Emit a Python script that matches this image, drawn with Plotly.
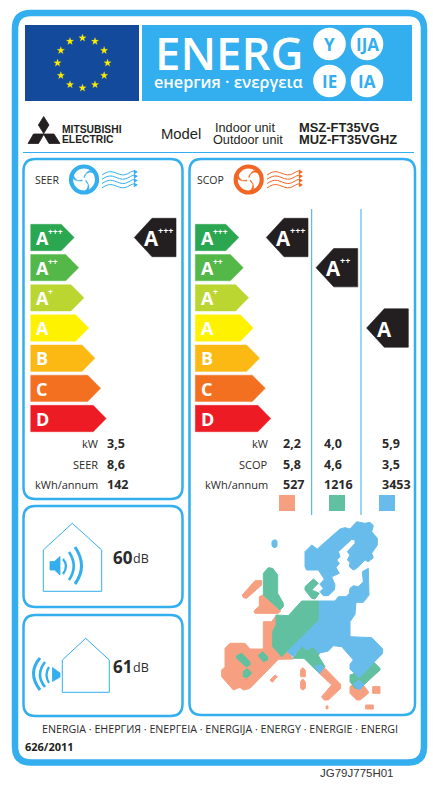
import math
import plotly.graph_objects as go

W = 433
H = 791

BLUE = "#33AEEF"
BLACK = "#231F20"
ORANGE = "#F26522"
TEXT_DARK = "#2B2A29"
SALMON = "#F6A081"
GREEN = "#61C09F"
SKY = "#67BCEB"

# data
class_letters = ["A", "A", "A", "A", "B", "C", "D"]
class_plus = ["+++", "++", "+", "", "", "", ""]
class_colors = ["#2BA651", "#53B848", "#BCD631", "#FFF200", "#FDB913", "#F37021", "#ED1C24"]
class_lengths = [43.5, 48, 53.3, 58, 64.3, 70, 75.5]

seer_labels = ["kW", "SEER", "kWh/annum"]
seer_values = ["3,5", "8,6", "142"]
seer_rating = 0

scop_labels = ["kW", "SCOP", "kWh/annum"]
scop_warm = ["2,2", "5,8", "527"]
scop_average = ["4,0", "4,6", "1216"]
scop_cold = ["5,9", "3,5", "3453"]
scop_ratings = [0, 1, 3]
zone_colors = [SALMON, GREEN, SKY]

noise_indoor = "60"
noise_outdoor = "61"

# map outlines, crop coords (3x, from 200,525)
map_salmon = [
    [(127,210),(165,167),(185,167),(185,180),(140,220),(130,218)],
    [(190,210),(242,258),(235,265),(165,265),(162,258),(178,243),(178,215)],
    [(75,370),(90,355),(135,355),(150,372),(190,372),(190,290),(215,290),(228,272),(228,300),(218,320),
     (218,365),(245,395),(262,380),(280,402),(235,403),(150,490),(130,495),(120,487),(100,495),(65,455),(65,435),(75,425)],
    [(210,465),(225,450),(232,455),(217,472)],
    [(302,435),(308,428),(316,435),(316,455),(302,455)],
    [(302,470),(308,462),(316,470),(316,490),(308,495),(302,490)],
    [(358,445),(375,430),(422,478),(422,490),(385,525),(372,525),(365,515),(395,480)],
    [(450,485),(465,475),(490,480),(505,500),(505,505),(480,525),(470,525),(450,505)],
    [(497,540),(520,540),(520,552),(497,552)],
    [(518,485),(540,485),(540,505),(518,505)],
    [(378,543),(384,543),(384,551),(378,551)],
]
map_green = [
    [(190,145),(205,128),(218,130),(233,150),(233,205),(250,235),(250,245),(240,255),(190,210)],
    [(315,185),(340,162),(355,175),(335,195),(358,205),(345,222),(335,220),(315,195)],
    [(305,228),(358,228),(358,285),(245,395),(218,365),(218,320),(228,300),(228,270),(265,272)],
    [(110,392),(125,385),(150,410),(150,420),(138,425),(110,400)],
    [(175,392),(188,380),(203,395),(203,405),(190,410)],
    [(130,440),(142,430),(155,445),(142,458),(130,455)],
    [(280,400),(305,362),(320,375),(340,365),(358,385),(355,392),(375,425),(358,445),(312,400)],
    [(450,450),(465,445),(478,458),(522,412),(540,430),(540,435),(480,490),(465,490),(450,470)],
]
map_sky = [
    [(315,80),(335,60),(352,72),(420,12),(435,8),(450,12),(470,-10),(495,-5),(510,-8),(520,2),(515,20),(532,40),
     (532,60),(515,85),(520,98),(505,110),(495,105),(470,130),(460,135),(448,125),(450,112),(442,105),(450,90),
     (442,80),(465,55),(465,45),(455,43),(415,80),(420,95),(410,105),(418,115),(408,128),(418,145),(395,155),
     (405,180),(403,195),(385,212),(370,212),(360,200),(370,190),(360,178),(373,162),(365,150),(355,135),(320,135),(315,125)],
    [(358,228),(405,228),(415,215),(438,215),(448,205),(450,190),(460,182),(475,185),(490,170),(487,140),(505,130),
     (507,210),(490,232),(468,232),(465,268),(450,290),(450,335),(515,338),(548,372),(548,385),(522,412),(478,458),
     (450,432),(450,418),(460,405),(425,365),(400,362),(385,378),(355,385),(340,365),(320,375),(305,362),(280,395),
     (262,380),(358,285)],
    [(216,50),(220,45),(228,45),(231,50),(231,62),(228,67),(220,67),(216,62)],
    [(345,425),(362,418),(372,428),(358,445)],
    [(460,478),(478,465),(492,480),(478,495)],
]

fig = go.Figure()


def poly(points, color, line=0.8):
    xs = [p[0] for p in points] + [points[0][0]]
    ys = [p[1] for p in points] + [points[0][1]]
    fig.add_trace(go.Scatter(x=xs, y=ys, mode="lines", fill="toself", fillcolor=color,
                             line=dict(color=color, width=line), hoverinfo="skip", showlegend=False))


def round_rect(x0, y0, x1, y1, r, color, width):
    path = (f"M {x0+r},{y0} L {x1-r},{y0} Q {x1},{y0} {x1},{y0+r} L {x1},{y1-r} Q {x1},{y1} {x1-r},{y1} "
            f"L {x0+r},{y1} Q {x0},{y1} {x0},{y1-r} L {x0},{y0+r} Q {x0},{y0} {x0+r},{y0} Z")
    fig.add_shape(type="path", path=path, line=dict(color=color, width=width), layer="below")


def stroke(path, color, width):
    fig.add_shape(type="path", path=path, line=dict(color=color, width=width))


def text(x, y, s, size, color=TEXT_DARK, bold=False, family="Open Sans", anchor="left", weight=None):
    if bold:
        s = "<b>" + s + "</b>"
    if anchor == "left":
        x = x - 0.8
    font = dict(family=family, size=size, color=color)
    if weight:
        font["weight"] = weight
    fig.add_annotation(x=x, y=y, text=s, showarrow=False, xanchor=anchor, yanchor="middle", borderpad=0, font=font)


def rect(x0, y0, x1, y1, color):
    fig.add_shape(type="rect", x0=x0, y0=y0, x1=x1, y1=y1, fillcolor=color, line_width=0, layer="below")


def circle(cx, cy, r, color, fill=None, width=0):
    fig.add_shape(type="circle", x0=cx-r, y0=cy-r, x1=cx+r, y1=cy+r, fillcolor=fill,
                  line=dict(color=color, width=width), layer="below")


def star(cx, cy, r):
    pts = []
    for k in range(10):
        a = -math.pi / 2 + k * math.pi / 5
        rr = r if k % 2 == 0 else r * 0.4
        pts.append((cx + rr * math.cos(a), cy + rr * math.sin(a)))
    return pts


def fan(cx, cy, color):
    circle(cx, cy, 13, color, fill="white", width=4.2)
    for a0 in [-75, 45, 165]:
        a = math.radians(a0)
        b = a + math.radians(70)
        c = a - math.radians(28)
        pts = []
        for t in range(0, 11):
            u = t / 10
            r = 1.5 + 10.5 * math.sin(u * math.pi / 2)
            an = a + (b - a) * u * u * 0.6
            pts.append((cx + r * math.cos(an), cy + r * math.sin(an)))
        for t in range(10, -1, -1):
            u = t / 10
            r = 1.5 + 10.5 * u
            an = c + (a + (b - a) * 0.6 - c) * u
            pts.append((cx + r * math.cos(an), cy + r * math.sin(an)))
        poly(pts, color, 0.5)
    poly(star(cx, cy, 1.7), "white", 1.2)


def waves(x0, color):
    for k, y in enumerate([175, 179.3, 183.6, 187.9]):
        end = x0 + 35
        d = (f"M {x0},{y} C {x0+6},{y-4} {x0+9},{y-4} {x0+14},{y-2} "
             f"S {x0+22},{y+1} {x0+27},{y-2} S {end-3},{y-4} {end},{y-3}")
        stroke(d, color, 1)
        poly([(end+0.5, y-3), (end-3, y-5.2), (end-3, y-0.8)], color, 0.3)


def class_scale(x0):
    for i, (letter, plus, color, length) in enumerate(zip(class_letters, class_plus, class_colors, class_lengths)):
        top = 224.3 + 30.17 * i
        bot = top + 26.4
        tip = x0 + length
        poly([(x0, top), (tip-13, top), (tip, (top+bot)/2), (tip-13, bot), (x0, bot)], color, 0.4)
        text(x0 + 5, (top+bot)/2 + 0.3, letter, 18, "white", True)
        if plus:
            text(x0 + 17.5, top + 7, plus, 8.5, "white", True)


def rating_arrow(right, rating):
    cy = 237.5 + 30.17 * rating
    top, bot = cy - 19.2, cy + 19.2
    poly([(right-41.7, cy), (right-24, top), (right, top), (right, bot), (right-24, bot)], BLACK, 0.6)
    text(right-32, cy + 0.5, class_letters[rating], 20.5, "white", True)
    if class_plus[rating]:
        text(right-18, cy - 7.5, class_plus[rating], 9, "white", True)


# outer frame and panels
round_rect(15, 13, 424, 762.5, 16, BLUE, 6.5)
round_rect(23.5, 159, 182.5, 499, 12, BLUE, 2.5)
round_rect(189.5, 159, 415, 715, 12, BLUE, 2.5)
round_rect(23.5, 506, 182.5, 607, 12, BLUE, 2.5)
round_rect(23.5, 615, 182.5, 716, 12, BLUE, 2.5)

# header
rect(25, 25, 139, 101, "#134A9C")
rect(142, 25, 412, 101, BLUE)
for k in range(12):
    a = math.radians(30 * k)
    poly(star(82.5 + 25 * math.sin(a), 63 - 25 * math.cos(a), 3.9), "#FFED00", 0.2)
text(154.5, 52, "ENERG", 45.5, "white", weight=600)
text(154, 82, "енергия · ενεργεια", 16.2, "white", weight=600)
for (cx, cy), s in zip([(329.5, 44), (367, 44), (329.5, 81), (367, 81)], ["Y", "IJA", "IE", "IA"]):
    circle(cx, cy, 16.3, "white", fill="white")
    text(cx, cy, s, 17, BLUE, True, anchor="center")

# logo
poly([(43.7, 116.5), (49, 125), (43.7, 133.5), (38.4, 125)], BLACK)
poly([(28, 143.5), (33.5, 134), (44, 134), (38.5, 143.5)], BLACK)
poly([(49, 143.5), (43.5, 134), (54, 134), (60, 143.5)], BLACK)
text(62, 129, "MITSUBISHI", 10.3, BLACK, True, "Liberation Sans")
text(62, 139, "ELECTRIC", 10.3, BLACK, True, "Liberation Sans")
text(161, 133.5, "Model", 14.8, BLACK, False, "Liberation Sans")
text(214.5, 127.5, "Indoor unit", 12.7, BLACK, False, "Liberation Sans")
text(212.5, 139.5, "Outdoor unit", 12.7, BLACK, False, "Liberation Sans")
text(298.5, 127.5, "MSZ-FT35VG", 12.9, BLACK, True, "Liberation Sans")
text(298.5, 139.5, "MUZ-FT35VGHZ", 12.9, BLACK, True, "Liberation Sans")
fig.add_shape(type="line", x0=23, x1=414, y0=152.5, y1=152.5, line=dict(color=BLUE, width=1))

# SEER panel
text(34.5, 180, "SEER", 10.5)
fan(84, 179.5, BLUE)
waves(102, BLUE)
class_scale(30.7)
rating_arrow(176, seer_rating)
for y, label, value in zip([443.7, 464, 484], seer_labels, seer_values):
    text(99, y, label, 11, anchor="right")
    text(106.5, y, value, 12.5, bold=True)

# SCOP panel
text(196.5, 180, "SCOP", 10.5)
fan(248.7, 179.5, ORANGE)
waves(267, ORANGE)
class_scale(195.3)
for right, rating in zip([308, 357.7, 408.3], scop_ratings):
    rating_arrow(right, rating)
for x in [311.7, 361]:
    fig.add_shape(type="line", x0=x, x1=x, y0=209, y1=515, line=dict(color=BLUE, width=1))
for i, y in enumerate([443.7, 464, 484]):
    text(269, y, scop_labels[i], 11, anchor="right")
    for x, col in zip([282.7, 324, 382], [scop_warm, scop_average, scop_cold]):
        text(x, y, col[i], 12.5, bold=True)
for x, color in zip([279, 329, 379], zone_colors):
    rect(x, 495, x + 16, 511, color)

# map
for group, color in [(map_salmon, SALMON), (map_green, GREEN), (map_sky, SKY)]:
    for outline in group:
        poly([(200 + px / 3, 525 + py / 3) for px, py in outline], color, 1)

# noise panels
stroke("M 43.3,550 L 72.3,523.3 L 101.7,550 L 101.7,591.3 L 43.3,591.3 Z", BLUE, 1)
poly([(50, 561.5), (54.5, 561.5), (60, 556.5), (60, 575), (54.5, 570), (50, 570)], BLUE)
stroke("M 63,559 Q 69,566 63,574", BLUE, 2.3)
stroke("M 69,552 Q 78.5,566 69,580", BLUE, 2.6)
stroke("M 75,547 Q 88,566 75,584", BLUE, 3)
text(112.5, 557, noise_indoor, 17, bold=True)
text(133, 558, "dB", 12.5)

stroke("M 62.3,660 L 85.7,638.3 L 109.3,660 L 109.3,692.3 L 62.3,692.3 Z", BLUE, 1)
poly([(52.5, 667.5), (60, 673), (60, 677), (52.5, 681.5)], BLUE)
stroke("M 49,667 Q 44,674.5 49,683", BLUE, 2.3)
stroke("M 45,662 Q 35,675 45,687", BLUE, 2.6)
stroke("M 40,658 Q 27,673 40,690", BLUE, 3)
text(112.5, 666, noise_outdoor, 17, bold=True)
text(133, 667, "dB", 12.5)

# footer
text(220, 729, "ENERGIA · ЕНЕРГИЯ · ΕΝΕΡΓΕΙΑ · ENERGIJA · ENERGY · ENERGIE · ENERGI", 10.7, anchor="center")
text(25, 746.5, "626/2011", 11, BLACK, True)
text(320, 773, "JG79J775H01", 11.5, "#333333", False, "Liberation Sans")

fig.update_xaxes(range=[0, W], visible=False, fixedrange=True)
fig.update_yaxes(range=[H, 0], visible=False, fixedrange=True)
fig.update_layout(width=W, height=H, margin=dict(l=0, r=0, t=0, b=0),
                  plot_bgcolor="white", paper_bgcolor="white", showlegend=False)

fig.write_html("out.html", config={"displayModeBar": False},
               post_script="document.body.style.margin='0';document.body.style.overflow='hidden';")
